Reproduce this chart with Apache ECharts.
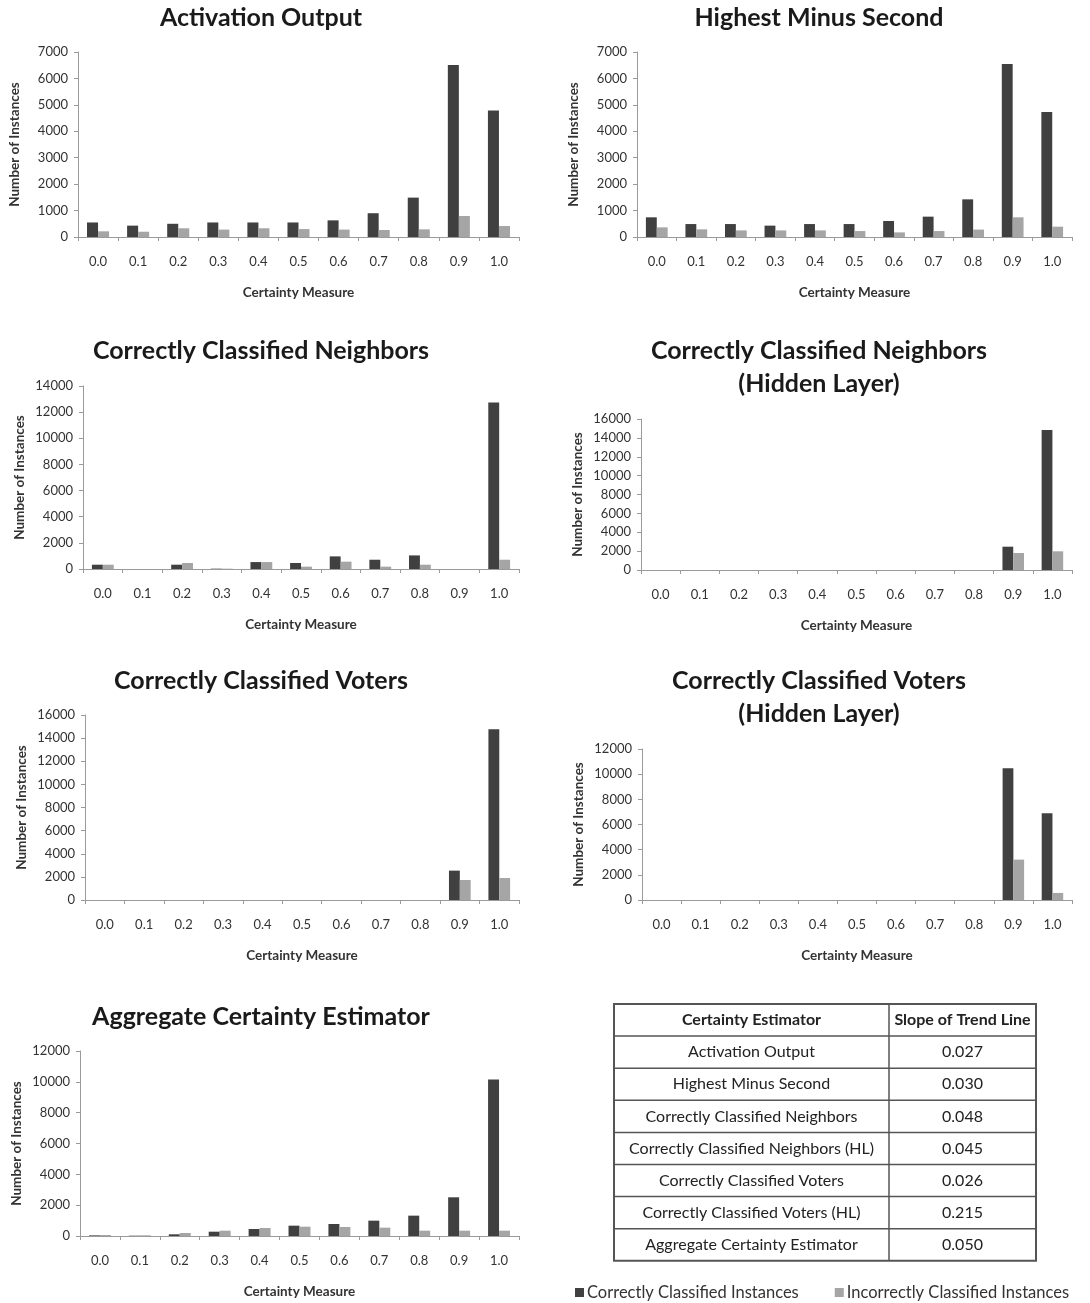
<!DOCTYPE html>
<html>
<head>
<meta charset="utf-8">
<script src="https://cdn.jsdelivr.net/npm/echarts@6/dist/echarts.min.js"></script>
<style>
  html, body { margin: 0; padding: 0; background: #fff; }
  #chart { width: 1090px; height: 1303px; }
</style>
</head>
<body>
<div id="chart"></div>
<script>
// Certainty measure bins shared by every histogram
const categories = ['0.0', '0.1', '0.2', '0.3', '0.4', '0.5', '0.6', '0.7', '0.8', '0.9', '1.0'];

// Activation Output
const activationCorrect   = [550, 430, 500, 550, 550, 550, 630, 900, 1490, 6510, 4790];
const activationIncorrect = [215, 200, 330, 280, 330, 300, 280, 265, 290, 795, 415];

// Highest Minus Second
const hmsCorrect   = [745, 490, 490, 430, 490, 490, 605, 770, 1425, 6545, 4730];
const hmsIncorrect = [365, 290, 250, 250, 250, 225, 175, 225, 280, 745, 390];

// Correctly Classified Neighbors
const ccnCorrect   = [330, 0, 330, 25, 530, 460, 965, 710, 1040, 0, 12730];
const ccnIncorrect = [330, 0, 460, 25, 530, 180, 560, 180, 330, 0, 710];

// Correctly Classified Neighbors (Hidden Layer)
const ccnHlCorrect   = [0, 0, 0, 0, 0, 0, 0, 0, 0, 2470, 14840];
const ccnHlIncorrect = [0, 0, 0, 0, 0, 0, 0, 0, 0, 1800, 1980];

// Correctly Classified Voters
const ccvCorrect   = [0, 0, 0, 0, 0, 0, 0, 0, 0, 2540, 14760];
const ccvIncorrect = [0, 0, 0, 0, 0, 0, 0, 0, 0, 1730, 1900];

// Correctly Classified Voters (Hidden Layer)
const ccvHlCorrect   = [0, 0, 0, 0, 0, 0, 0, 0, 0, 10480, 6900];
const ccvHlIncorrect = [0, 0, 0, 0, 0, 0, 0, 0, 0, 3210, 560];

// Aggregate Certainty Estimator
const aggCorrect   = [40, 20, 110, 280, 455, 670, 780, 995, 1320, 2510, 10150];
const aggIncorrect = [65, 45, 195, 345, 520, 605, 585, 540, 345, 345, 345];

// Y-axis extents per panel
const yMaxes     = [7000, 7000, 14000, 16000, 16000, 12000, 12000];
const yIntervals = [1000, 1000, 2000, 2000, 2000, 2000, 2000];

// Summary table
const tableHeader = ['Certainty Estimator', 'Slope of Trend Line'];
const tableEstimators = [
  'Activation Output', 'Highest Minus Second', 'Correctly Classified Neighbors',
  'Correctly Classified Neighbors (HL)', 'Correctly Classified Voters',
  'Correctly Classified Voters (HL)', 'Aggregate Certainty Estimator'
];
const tableSlopes = ['0.027', '0.030', '0.048', '0.045', '0.026', '0.215', '0.050'];

const seriesNames = ['Correctly Classified Instances', 'Incorrectly Classified Instances'];

const panels = [
  { title: 'Activation Output', correct: activationCorrect, incorrect: activationIncorrect,
    grid: { left: 78, top: 52, width: 441, height: 185 }, titlePos: [256, -4] },
  { title: 'Highest Minus Second', correct: hmsCorrect, incorrect: hmsIncorrect,
    grid: { left: 637, top: 52, width: 435, height: 185 }, titlePos: [814, -4] },
  { title: 'Correctly Classified Neighbors', correct: ccnCorrect, incorrect: ccnIncorrect,
    grid: { left: 83, top: 386, width: 436, height: 183 }, titlePos: [256, 329] },
  { title: 'Correctly Classified Neighbors\n(Hidden Layer)', correct: ccnHlCorrect, incorrect: ccnHlIncorrect,
    grid: { left: 641, top: 419, width: 431, height: 151 }, titlePos: [814, 329] },
  { title: 'Correctly Classified Voters', correct: ccvCorrect, incorrect: ccvIncorrect,
    grid: { left: 85, top: 715, width: 434, height: 185 }, titlePos: [256, 659] },
  { title: 'Correctly Classified Voters\n(Hidden Layer)', correct: ccvHlCorrect, incorrect: ccvHlIncorrect,
    grid: { left: 642, top: 749, width: 430, height: 151 }, titlePos: [814, 659] },
  { title: 'Aggregate Certainty Estimator', correct: aggCorrect, incorrect: aggIncorrect,
    grid: { left: 80, top: 1051, width: 439, height: 185 }, titlePos: [256, 995] }
];

const FONT = 'Lato, "Open Sans", sans-serif';
const DARK = '#404040';
const LIGHT = '#a5a5a5';
const AXIS = '#9a9a9a';

const titles = [], grids = [], xAxes = [], yAxes = [], series = [];

panels.forEach((p, i) => {
  titles.push({
    text: p.title, left: p.titlePos[0], top: p.titlePos[1], textAlign: 'center',
    textStyle: { fontFamily: FONT, fontSize: 25, fontWeight: 'bold', color: '#1a1a1a', lineHeight: 33 }
  });
  grids.push(Object.assign({ containLabel: false }, p.grid));
  xAxes.push({
    type: 'category', gridIndex: i, data: categories, boundaryGap: true,
    name: 'Certainty Measure', nameLocation: 'middle', nameGap: 49,
    nameTextStyle: { fontFamily: FONT, fontSize: 13.5, fontWeight: 'bold', color: '#333' },
    axisLine: { lineStyle: { color: AXIS, width: 1 } },
    axisTick: { show: true, length: 4, lineStyle: { color: AXIS } },
    axisLabel: { fontFamily: FONT, fontSize: 13, color: '#333', margin: 18 },
    splitLine: { show: false }
  });
  yAxes.push({
    type: 'value', gridIndex: i, min: 0, max: yMaxes[i], interval: yIntervals[i],
    name: 'Number of Instances', nameLocation: 'middle', nameRotate: 90, nameGap: 56,
    nameTextStyle: { fontFamily: FONT, fontSize: 13.5, fontWeight: 'bold', color: '#333' },
    axisLine: { show: true, lineStyle: { color: AXIS, width: 1 } },
    axisTick: { show: true, length: 4, lineStyle: { color: AXIS } },
    axisLabel: { fontFamily: FONT, fontSize: 13, color: '#333', margin: 10,
                 formatter: v => String(v) },
    splitLine: { show: false }
  });
  series.push({
    name: seriesNames[0], type: 'bar', xAxisIndex: i, yAxisIndex: i, data: p.correct,
    itemStyle: { color: DARK }, barGap: '0%', barCategoryGap: '45%', animation: false
  });
  series.push({
    name: seriesNames[1], type: 'bar', xAxisIndex: i, yAxisIndex: i, data: p.incorrect,
    itemStyle: { color: LIGHT }, barGap: '0%', barCategoryGap: '45%', animation: false
  });
});

// Table of trend-line slopes drawn as graphic elements
const tLeft = 614, tRight = 1036, tDivider = 889, tTop = 1004, rowH = 32.1;
const nRows = tableEstimators.length + 1;
const graphics = [];
graphics.push({
  type: 'rect', shape: { x: tLeft, y: tTop, width: tRight - tLeft, height: rowH * nRows },
  style: { fill: '#fff', stroke: '#555', lineWidth: 2 }
});
for (let r = 1; r < nRows; r++) {
  graphics.push({
    type: 'line', shape: { x1: tLeft, y1: tTop + r * rowH, x2: tRight, y2: tTop + r * rowH },
    style: { stroke: '#555', lineWidth: 1.5 }
  });
}
graphics.push({
  type: 'line', shape: { x1: tDivider, y1: tTop, x2: tDivider, y2: tTop + rowH * nRows },
  style: { stroke: '#555', lineWidth: 1.5 }
});
const cell = (txt, cx, cy, bold) => ({
  type: 'text', x: cx, y: cy,
  style: { text: txt, fontFamily: FONT, fontSize: 16, fontWeight: bold ? 'bold' : 'normal',
           fill: '#222', align: 'center', verticalAlign: 'middle' }
});
graphics.push(cell(tableHeader[0], (tLeft + tDivider) / 2, tTop + rowH / 2, true));
graphics.push(cell(tableHeader[1], (tDivider + tRight) / 2, tTop + rowH / 2, true));
tableEstimators.forEach((name, k) => {
  const cy = tTop + rowH * (k + 1) + rowH / 2;
  graphics.push(cell(name, (tLeft + tDivider) / 2, cy, false));
  graphics.push(cell(tableSlopes[k], (tDivider + tRight) / 2, cy, false));
});

const chart = echarts.init(document.getElementById('chart'), null, { renderer: 'canvas' });
chart.setOption({
  backgroundColor: '#fff',
  animation: false,
  title: titles,
  grid: grids,
  xAxis: xAxes,
  yAxis: yAxes,
  series: series,
  legend: {
    data: seriesNames, left: 570, top: 1279, icon: 'rect', itemWidth: 9, itemHeight: 9,
    itemGap: 36, selectedMode: false,
    textStyle: { fontFamily: FONT, fontSize: 16.5, color: '#333', padding: [0, 0, 0, -2] }
  },
  graphic: graphics
});
</script>
</body>
</html>
